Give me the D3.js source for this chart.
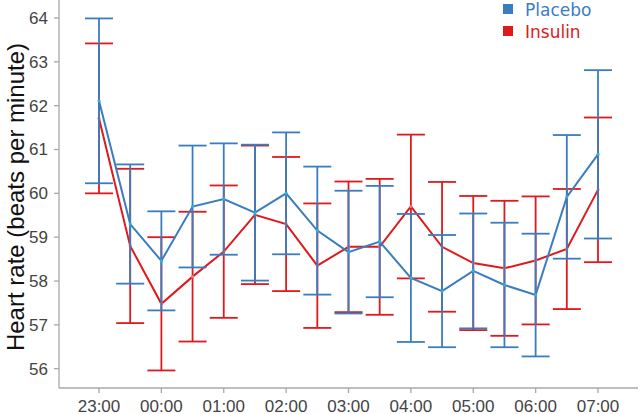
<!DOCTYPE html>
<html><head><meta charset="utf-8">
<script src="https://cdn.jsdelivr.net/npm/d3@7"></script>
<style>html,body{margin:0;padding:0;background:#fff;}svg{display:block;}</style>
</head><body>
<svg id="chart" width="640" height="414"></svg>
<script>
const times = ["23:00","23:30","00:00","00:30","01:00","01:30","02:00","02:30","03:00","03:30","04:00","04:30","05:00","05:30","06:00","06:30","07:00"];
const tickLabels = ["23:00","00:00","01:00","02:00","03:00","04:00","05:00","06:00","07:00"];
const yTicks = [56,57,58,59,60,61,62,63,64];
const placeboMean = [62.11,59.30,58.46,59.70,59.87,59.56,60.00,59.15,58.66,58.90,58.07,57.77,58.23,57.91,57.68,59.92,60.89];
const placeboErr  = [1.88,1.36,1.13,1.39,1.27,1.55,1.39,1.46,1.40,1.27,1.46,1.28,1.31,1.42,1.40,1.41,1.92];
const insulinMean = [61.71,58.80,57.48,58.10,58.67,59.51,59.30,58.35,58.78,58.78,59.70,58.78,58.41,58.29,58.47,58.73,60.08];
const insulinErr  = [1.71,1.76,1.52,1.48,1.51,1.58,1.53,1.42,1.49,1.55,1.64,1.48,1.53,1.54,1.46,1.37,1.65];
const seriesNames = ["Placebo","Insulin"];
const colors = ["#3a7dbf","#e0191c"];
const dotColors = ["#2bb5d0","#ee7b7b"];

const svg = d3.select("#chart");
const x = d3.scalePoint().domain(times).range([99,598]);
const y = d3.scaleLinear().domain([56,64]).range([368.7,18]);
const axisColor = "#a8a8a8";
const xLeft = 59, xRight = 638, yBottom = 388, yTop = 0;
const tickFont = "Liberation Sans, Arial, sans-serif";

// axes
const gx = svg.append("g").attr("transform",`translate(0,${yBottom})`);
gx.append("line").attr("x1",xLeft).attr("x2",xRight).attr("stroke",axisColor).attr("stroke-width",1.3);
gx.selectAll("g.t").data(tickLabels).join("g").attr("class","t")
  .attr("transform",d=>`translate(${x(d)},0)`)
  .call(g=>{
    g.append("line").attr("y2",5).attr("stroke",axisColor).attr("stroke-width",1.3);
    g.append("text").attr("y",23.5).attr("text-anchor","middle")
      .attr("font-family",tickFont).attr("font-size",17).attr("fill","#444").text(d=>d);
  });
const gy = svg.append("g").attr("transform",`translate(${xLeft},0)`);
gy.append("line").attr("y1",yTop).attr("y2",yBottom).attr("stroke",axisColor).attr("stroke-width",1.3);
gy.selectAll("g.t").data(yTicks).join("g").attr("class","t")
  .attr("transform",d=>`translate(0,${y(d)})`)
  .call(g=>{
    g.append("line").attr("x2",-5).attr("stroke",axisColor).attr("stroke-width",1.3);
    g.append("text").attr("x",-11).attr("dy","0.35em").attr("text-anchor","end")
      .attr("font-family",tickFont).attr("font-size",17).attr("fill","#444").text(d=>d);
  });
svg.append("text").attr("transform",`translate(16,${(31+363)/2}) rotate(-90)`)
  .attr("text-anchor","middle").attr("dy","0.35em")
  .attr("font-family",tickFont).attr("font-size",24).attr("fill","#111")
  .text("Heart rate (beats per minute)");

// series (insulin drawn first, placebo on top)
const series = [
  {name:seriesNames[1], mean:insulinMean, err:insulinErr, color:colors[1], dot:dotColors[1]},
  {name:seriesNames[0], mean:placeboMean, err:placeboErr, color:colors[0], dot:dotColors[0]}
];
const capW = 14;
series.forEach(s=>{
  const data = times.map((t,i)=>({t, m:s.mean[i], e:s.err[i]}));
  const g = svg.append("g");
  g.selectAll("line.v").data(data).join("line")
    .attr("x1",d=>x(d.t)).attr("x2",d=>x(d.t))
    .attr("y1",d=>y(d.m-d.e)).attr("y2",d=>y(d.m+d.e))
    .attr("stroke",s.color).attr("stroke-width",1.8);
  g.selectAll("line.top").data(data).join("line")
    .attr("x1",d=>x(d.t)-capW).attr("x2",d=>x(d.t)+capW)
    .attr("y1",d=>y(d.m+d.e)).attr("y2",d=>y(d.m+d.e))
    .attr("stroke",s.color).attr("stroke-width",1.8);
  g.selectAll("line.bot").data(data).join("line")
    .attr("x1",d=>x(d.t)-capW).attr("x2",d=>x(d.t)+capW)
    .attr("y1",d=>y(d.m-d.e)).attr("y2",d=>y(d.m-d.e))
    .attr("stroke",s.color).attr("stroke-width",1.8);
  g.append("path").datum(data)
    .attr("d",d3.line().x(d=>x(d.t)).y(d=>y(d.m)))
    .attr("fill","none").attr("stroke",s.color).attr("stroke-width",2);
  g.selectAll("circle").data(data).join("circle")
    .attr("cx",d=>x(d.t)).attr("cy",d=>y(d.m)).attr("r",1.6).attr("fill",s.dot);
});

// legend
const leg = svg.append("g");
[0,1].forEach(i=>{
  const row = leg.append("g").attr("transform",`translate(503,${4+i*22})`);
  row.append("rect").attr("width",10).attr("height",10).attr("fill",colors[i]);
  row.append("text").attr("x",22).attr("y",12).attr("font-family","DejaVu Sans, Verdana, sans-serif")
    .attr("font-size",17).attr("fill",colors[i]).text(seriesNames[i]);
});
</script>
</body></html>
